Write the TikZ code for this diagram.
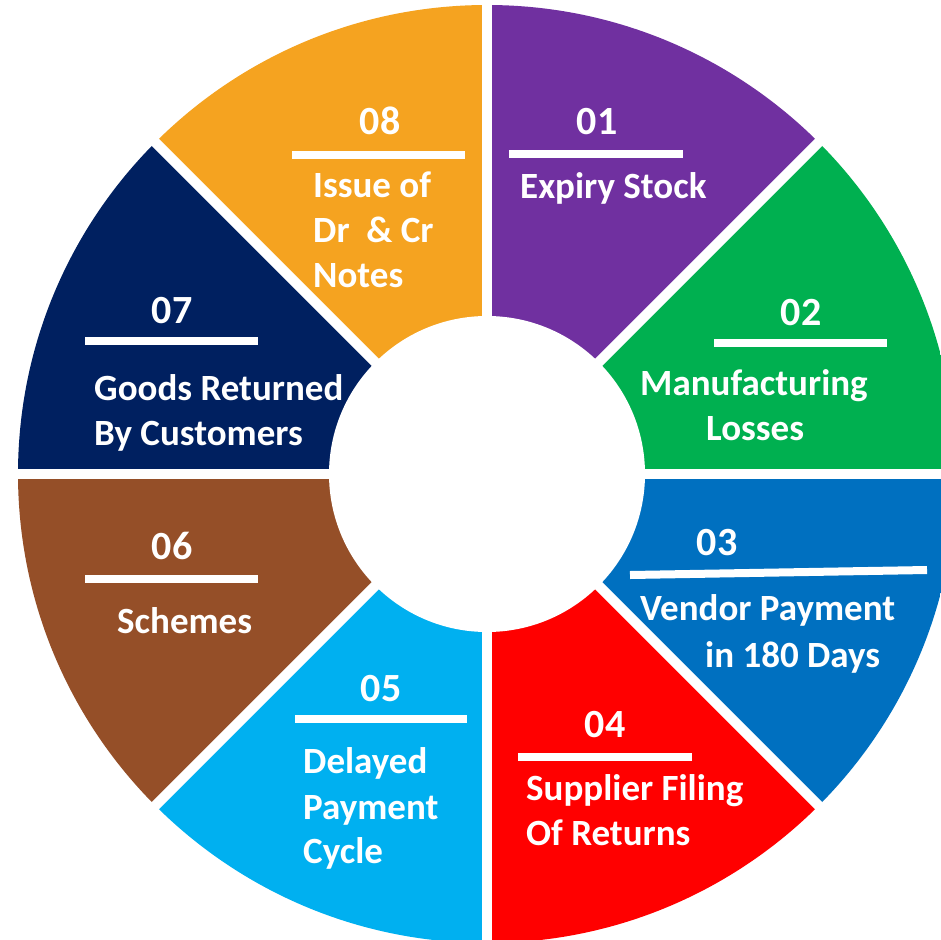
\documentclass[tikz,border=0pt]{standalone}
\usepackage{fontspec}
\setmainfont{Carlito}
\definecolor{cpurple}{HTML}{7030A0}
\definecolor{cgreen}{HTML}{00B050}
\definecolor{cblue}{HTML}{0070C0}
\definecolor{cred}{HTML}{FF0000}
\definecolor{clblue}{HTML}{00B0F0}
\definecolor{cbrown}{HTML}{954F28}
\definecolor{cnavy}{HTML}{002060}
\definecolor{corange}{HTML}{F5A320}
\tikzset{
  num/.style={text=white, font=\fontsize{40}{48}\selectfont\bfseries, inner sep=0pt, anchor=base},
  lbl/.style={text=white, font=\fontsize{37}{45}\selectfont\bfseries, inner sep=0pt, anchor=base west},
  bar/.style={draw=white, line width=8pt},
  gapline/.style={draw=white, line width=10pt},
}
\begin{document}
\begin{tikzpicture}[x=1pt,y=-1pt]
\useasboundingbox (0,0) rectangle (941,939);
\fill[white] (0,0) rectangle (941,939);
\clip (0,0) rectangle (941,939);
\coordinate (C) at (487,474);
% sectors
\begin{scope}
\clip (C) circle[radius=469];
\fill[cpurple] (C) -- (487,-126) -- (1087,-126) -- cycle;
\fill[cgreen]  (C) -- (1087,-126) -- (1087,474) -- cycle;
\fill[cblue]   (C) -- (1087,474) -- (1087,1074) -- cycle;
\fill[cred]    (C) -- (1087,1074) -- (487,1074) -- cycle;
\fill[clblue]  (C) -- (487,1074) -- (-113,1074) -- cycle;
\fill[cbrown]  (C) -- (-113,1074) -- (-113,474) -- cycle;
\fill[cnavy]   (C) -- (-113,474) -- (-113,-126) -- cycle;
\fill[corange] (C) -- (-113,-126) -- (487,-126) -- cycle;
\end{scope}
% white gaps
\draw[gapline] (487,-20) -- (487,960);
\draw[gapline] (-20,474) -- (960,474);
\draw[gapline] (-13,-26) -- (987,974);
\draw[gapline] (-13,974) -- (987,-26);
\fill[white] (C) circle[radius=158];
% bars
\draw[bar] (509,154) -- (683,154);
\draw[bar] (714,343) -- (887,343);
\draw[bar] (630,575) -- (927,570);
\draw[bar] (518,757) -- (692,757);
\draw[bar] (295,719) -- (467,719);
\draw[bar] (85,579) -- (258,579);
\draw[bar] (85,341) -- (258,341);
\draw[bar] (292,155) -- (465,155);
% numbers
\node[num] (n01) at (597,135) {01};
\node[num] (n02) at (801,325) {02};
\node[num] (n03) at (717,555) {03};
\node[num] (n04) at (605,737) {04};
\node[num] (n05) at (381,701) {05};
\node[num] (n06) at (172,559) {06};
\node[num] (n07) at (172,323) {07};
\node[num] (n08) at (380,135) {08};
% labels
\node[lbl] (t01) at (520,198) {Expiry Stock};
\node[lbl] (t02a) at (640,395) {Manufacturing};
\node[lbl] (t02b) at (706,440) {Losses};
\node[lbl] (t03a) at (640,620) {Vendor Payment};
\node[lbl] (t03b) at (705,667) {in 180 Days};
\node[lbl] (t04a) at (526,800) {Supplier Filing};
\node[lbl] (t04b) at (526,845) {Of Returns};
\node[lbl] (t05a) at (303,773) {Delayed};
\node[lbl] (t05b) at (303,819) {Payment};
\node[lbl] (t05c) at (303,863) {Cycle};
\node[lbl] (t06) at (117,633) {Schemes};
\node[lbl] (t07a) at (94,400) {Goods Returned};
\node[lbl] (t07b) at (94,445) {By Customers};
\node[lbl] (t08a) at (313,197) {Issue of};
\node[lbl] (t08b) at (313,242) {Dr\ \ \& Cr};
\node[lbl] (t08c) at (313,287) {Notes};
\end{tikzpicture}
\end{document}
